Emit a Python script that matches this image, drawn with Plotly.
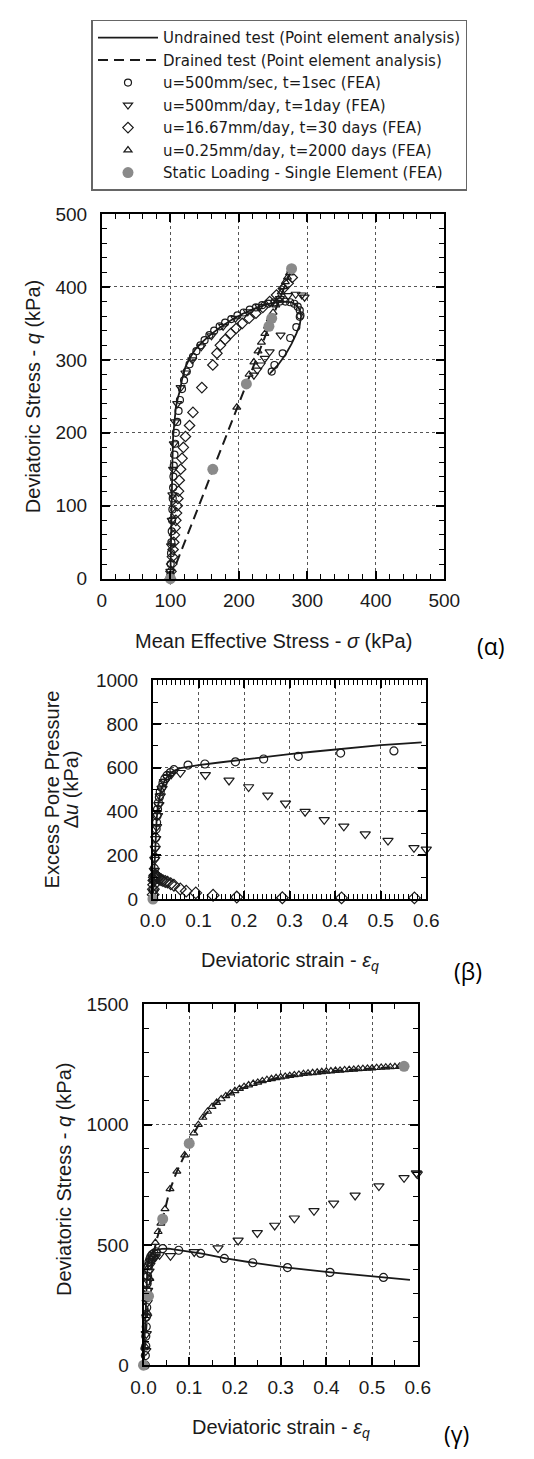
import plotly.graph_objects as go

W, H = 534, 1459

# ---------------- Panel (α): q vs mean effective stress ----------------
a_und_p = [100, 100.5, 101, 102, 103, 104, 106, 108, 111, 114, 117, 122, 128, 136, 146, 158, 172, 188, 205, 222,
           240, 255, 267, 277, 284, 289, 291, 289, 284, 277, 268, 258, 249, 245]
a_und_q = [0, 40, 80, 120, 160, 195, 220, 235, 248, 258, 273, 290, 302, 314, 324, 334, 344, 354, 363, 370,
           376, 379, 380, 379, 375, 369, 360, 348, 336, 322, 307, 294, 285, 281]
a_dr_p = [100, 277]
a_dr_q = [0, 425]
a_c1_p = [100, 100.5, 101, 101.5, 102, 102.5, 103, 103.5, 104, 104.5, 105, 106, 107, 108, 110, 112, 114, 117, 120,
          124, 128, 133, 138, 144, 150, 157, 164, 172, 180, 189, 198, 207, 216, 225, 234, 243, 252, 260, 268, 275,
          281, 286, 289, 290, 289, 284, 275, 264, 252, 248]
a_c1_q = [5, 20, 35, 50, 65, 80, 95, 110, 125, 140, 155, 170, 185, 200, 215, 230, 245, 260, 272,
          284, 294, 304, 312, 320, 327, 334, 340, 346, 351, 356, 361, 365, 369, 372, 375, 377, 379, 380, 380, 379,
          377, 373, 368, 361, 359, 345, 330, 309, 293, 284]
a_c2_p = [100, 101, 102, 103, 104, 105, 107, 110, 115, 122, 132, 145, 160, 177, 195, 213, 230, 246, 260, 272, 283,
          292, 296, 261, 245, 238, 232, 227, 222]
a_c2_q = [10, 45, 80, 115, 150, 185, 215, 240, 262, 282, 300, 318, 333, 346, 357, 366, 373, 379, 384, 388, 390,
          389, 386, 334, 311, 302, 293, 286, 279]
a_c3_p = [100, 101, 102, 103, 104, 105, 106, 107, 108, 109, 110, 111, 112, 113, 115, 117, 119, 122, 128, 133, 146,
          162, 168, 173, 180, 188, 196, 205, 215, 225, 235, 245, 255, 265, 272, 278]
a_c3_q = [0, 10, 20, 30, 40, 50, 60, 70, 80, 90, 100, 110, 120, 135, 150, 165, 180, 195, 210, 228, 262,
          293, 309, 320, 328, 336, 343, 350, 357, 364, 372, 380, 389, 398, 405, 413]
a_c4_p = [197, 215, 222, 228, 233, 238, 242, 246, 250, 254, 258, 262, 265, 268, 271, 274, 276]
a_c4_q = [235, 280, 297, 312, 324, 336, 346, 356, 365, 375, 384, 393, 400, 407, 413, 419, 423]
a_st_p = [100, 162, 211, 244, 248, 277]
a_st_q = [0, 150, 267, 346, 357, 425]

# ---------------- Panel (β): excess pore pressure vs deviatoric strain ----------------
b_und_e = [0, 0.002, 0.004, 0.006, 0.008, 0.01, 0.013, 0.017, 0.022, 0.028, 0.035, 0.045, 0.06, 0.08, 0.1, 0.15,
           0.2, 0.25, 0.3, 0.35, 0.4, 0.45, 0.5, 0.55, 0.59]
b_und_u = [0, 100, 200, 290, 360, 410, 455, 495, 525, 550, 568, 585, 598, 606, 612, 625, 638, 650, 662, 673, 684,
           694, 703, 710, 716]
b_c1_e = [0.001, 0.002, 0.003, 0.004, 0.005, 0.006, 0.007, 0.008, 0.009, 0.01, 0.012, 0.014, 0.016, 0.019, 0.022,
          0.026, 0.031, 0.038, 0.046, 0.077, 0.114, 0.181, 0.243, 0.319, 0.412, 0.529]
b_c1_u = [40, 90, 140, 190, 240, 280, 320, 350, 380, 410, 440, 465, 490, 510, 530, 550, 565, 578, 591, 612, 617,
          627, 640, 652, 667, 677]
b_c2_e = [0.001, 0.002, 0.003, 0.004, 0.005, 0.006, 0.008, 0.01, 0.013, 0.016, 0.02, 0.025, 0.032, 0.04, 0.06,
          0.115, 0.167, 0.21, 0.252, 0.291, 0.334, 0.376, 0.419, 0.466, 0.516, 0.573, 0.6]
b_c2_u = [30, 80, 130, 180, 230, 275, 330, 380, 430, 470, 505, 535, 555, 570, 577, 567, 542, 512, 474, 437, 399,
          362, 332, 297, 267, 234, 227]
b_c3_e = [0.0005, 0.001, 0.0015, 0.002, 0.003, 0.004, 0.005, 0.006, 0.008, 0.01, 0.012, 0.015, 0.018, 0.022, 0.027,
          0.032, 0.039, 0.046, 0.06, 0.073, 0.094, 0.132, 0.184, 0.284, 0.414, 0.574]
b_c3_u = [20, 45, 65, 85, 100, 108, 110, 108, 104, 100, 96, 92, 88, 84, 80, 77, 70, 63, 46, 36, 28, 17, 9, 6, 5, 5]
b_st_e = [0.0]
b_st_u = [0]

# ---------------- Panel (γ): q vs deviatoric strain ----------------
g_und_e = [0, 0.002, 0.004, 0.006, 0.008, 0.01, 0.013, 0.017, 0.022, 0.03, 0.04, 0.055, 0.075, 0.1, 0.125, 0.15,
           0.18, 0.24, 0.315, 0.41, 0.525, 0.583]
g_und_q = [0, 110, 220, 310, 380, 425, 450, 465, 474, 480, 484, 485, 480, 474, 465, 456, 444, 426, 406, 386, 365, 355]
g_dr_e = [0, 0.005, 0.011, 0.02, 0.03, 0.042, 0.057, 0.073, 0.09, 0.1, 0.114, 0.13, 0.15, 0.165, 0.2, 0.25, 0.3,
          0.35, 0.4, 0.45, 0.5, 0.57, 0.583]
g_dr_q = [0, 140, 287, 450, 530, 608, 725, 806, 874, 922, 977, 1030, 1075, 1100, 1141, 1176, 1198, 1212, 1222, 1228,
          1235, 1243, 1244]
g_c1_e = [0.004, 0.004, 0.005, 0.005, 0.006, 0.006, 0.007, 0.007, 0.008, 0.008, 0.009, 0.01, 0.011, 0.012, 0.014,
          0.016, 0.019, 0.023, 0.028, 0.042, 0.077, 0.125, 0.177, 0.239, 0.315, 0.408, 0.525]
g_c1_q = [0, 40, 80, 120, 160, 200, 240, 280, 310, 340, 370, 395, 415, 430, 442, 452, 460, 466, 471, 485, 478, 465,
          444, 426, 406, 386, 365]
g_c2_e = [0.005, 0.006, 0.007, 0.008, 0.009, 0.01, 0.012, 0.014, 0.017, 0.021, 0.026, 0.035, 0.059, 0.111, 0.163,
          0.207, 0.249, 0.287, 0.33, 0.373, 0.416, 0.463, 0.515, 0.57, 0.597, 0.599]
g_c2_q = [60, 130, 200, 260, 310, 350, 390, 415, 432, 442, 450, 459, 455, 471, 487, 519, 550, 581, 611, 642, 673,
          706, 745, 779, 799, 795]
g_c4_e = [0.003, 0.008, 0.014, 0.02, 0.026, 0.032, 0.038, 0.047, 0.058, 0.073, 0.09, 0.11, 0.12, 0.13, 0.14, 0.15,
          0.16, 0.17, 0.18, 0.19, 0.2, 0.21, 0.22, 0.23, 0.24, 0.25, 0.26, 0.27, 0.28, 0.29, 0.3, 0.31, 0.32, 0.33,
          0.34, 0.35, 0.36, 0.37, 0.38, 0.39, 0.4, 0.41, 0.42, 0.43, 0.44, 0.45, 0.46, 0.47, 0.48, 0.49, 0.5, 0.51,
          0.52, 0.53, 0.54, 0.55, 0.56]
g_c4_q = [80, 220, 360, 450, 510, 555, 590, 650, 733, 806, 874, 965, 1000, 1030, 1055, 1075, 1092, 1107, 1120,
          1131, 1141, 1150, 1158, 1165, 1171, 1176, 1182, 1187, 1191, 1195, 1198, 1201, 1204, 1207, 1209, 1212, 1214,
          1216, 1218, 1220, 1222, 1223, 1225, 1226, 1228, 1229, 1230, 1232, 1233, 1234, 1235, 1237, 1238, 1239, 1240,
          1241, 1242]
g_st_e = [0.0, 0.011, 0.042, 0.1, 0.57]
g_st_q = [0, 287, 608, 922, 1243]

names = ["Undrained test (Point element analysis)",
         "Drained test (Point element analysis)",
         "u=500mm/sec, t=1sec (FEA)",
         "u=500mm/day, t=1day (FEA)",
         "u=16.67mm/day, t=30 days (FEA)",
         "u=0.25mm/day, t=2000 days (FEA)",
         "Static Loading - Single Element (FEA)"]

FONT = "Liberation Sans, Arial, sans-serif"
INK = "#1a1a1a"
GREY = "#8a8a8a"

fig = go.Figure()

line_styles = [dict(color=INK, width=1.8), dict(color=INK, width=2, dash="10px,6px")]
symbols = ["circle-open", "triangle-down-open", "diamond-open", "triangle-up-open", "circle"]
sizes_small = [7, 8, 8, 7, 11]
sizes_big = [8, 9, 9, 7, 11]


def marker(idx, big):
    k = idx - 2
    s = (sizes_big if big else sizes_small)[k]
    if k == 4:
        return dict(symbol=symbols[k], size=s, color=GREY, line=dict(width=0))
    return dict(symbol=symbols[k], size=s, color=INK, line=dict(width=1.2, color=INK))


def add_line(x, y, idx, ax, show):
    fig.add_trace(go.Scatter(x=x, y=y, mode="lines", line=line_styles[idx], name=names[idx],
                             legendgroup=str(idx), showlegend=show, xaxis="x" + ax, yaxis="y" + ax,
                             cliponaxis=False, hoverinfo="skip"))


def add_mk(x, y, idx, ax, show):
    fig.add_trace(go.Scatter(x=x, y=y, mode="markers", marker=marker(idx, ax != ""), name=names[idx],
                             legendgroup=str(idx), showlegend=show, xaxis="x" + ax, yaxis="y" + ax,
                             cliponaxis=False, hoverinfo="skip"))


# panel α (axes 1)
add_line(a_und_p, a_und_q, 0, "", True)
add_line(a_dr_p, a_dr_q, 1, "", True)
add_mk(a_c1_p, a_c1_q, 2, "", True)
add_mk(a_c2_p, a_c2_q, 3, "", True)
add_mk(a_c3_p, a_c3_q, 4, "", True)
add_mk(a_c4_p, a_c4_q, 5, "", True)
add_mk(a_st_p, a_st_q, 6, "", True)
# panel β (axes 2)
add_line(b_und_e, b_und_u, 0, "2", False)
add_mk(b_c1_e, b_c1_u, 2, "2", False)
add_mk(b_c2_e, b_c2_u, 3, "2", False)
add_mk(b_c3_e, b_c3_u, 4, "2", False)
add_mk(b_st_e, b_st_u, 6, "2", False)
# panel γ (axes 3)
add_line(g_und_e, g_und_q, 0, "3", False)
add_line(g_dr_e, g_dr_q, 1, "3", False)
add_mk(g_c1_e, g_c1_q, 2, "3", False)
add_mk(g_c2_e, g_c2_q, 3, "3", False)
add_mk(g_c4_e, g_c4_q, 5, "3", False)
add_mk(g_st_e, g_st_q, 6, "3", False)


def xd(l, r):
    return [l / W, r / W]


def yd(t, b):
    return [1 - b / H, 1 - t / H]


def axis(domain, rng, dtick, minor, fmt=None, anchor=None, standoff=9):
    d = dict(domain=domain, range=rng, dtick=dtick, tick0=0, showline=True, linecolor="black", linewidth=2,
             mirror="allticks", ticks="inside", ticklen=8, tickwidth=1.5, tickcolor="black",
             showgrid=True, gridcolor="#555555", griddash="dot", gridwidth=1.2, zeroline=False,
             tickfont=dict(family=FONT, size=19, color=INK), ticklabelstandoff=standoff,
             minor=dict(dtick=minor, tick0=0, ticks="inside", ticklen=5, tickwidth=1.2, tickcolor="black",
                        showgrid=False),
             fixedrange=True)
    if fmt:
        d["tickformat"] = fmt
    if anchor:
        d["anchor"] = anchor
    return d


fig.update_layout(
    width=W, height=H, autosize=False, margin=dict(l=0, r=0, t=0, b=0, pad=0),
    paper_bgcolor="white", plot_bgcolor="white",
    font=dict(family=FONT, color=INK),
    xaxis=axis(xd(94, 456), [0, 500], 100, 20, anchor="y", standoff=4),
    yaxis=axis(yd(207, 577), [0, 500], 100, 20, anchor="x"),
    xaxis2=axis(xd(148, 437), [0, 0.6], 0.1, 0.01, ".1f", anchor="y2", standoff=3),
    yaxis2=axis(yd(680, 902), [0, 1000], 200, 100, anchor="x2"),
    xaxis3=axis(xd(138, 428), [0, 0.6], 0.1, 0.05, ".1f", anchor="y3", standoff=4),
    yaxis3=axis(yd(1009, 1375), [0, 1500], 500, 100, anchor="x3"),
    legend=dict(x=83 / W, y=1 - 10 / H, xanchor="left", yanchor="top", bgcolor="white",
                bordercolor="#666666", borderwidth=1.5, itemwidth=60, tracegroupgap=0,
                font=dict(family="DejaVu Sans, Liberation Sans, sans-serif", size=15, color=INK)),
    showlegend=True,
)

TF = dict(family=FONT, size=20, color=INK)
LF = dict(family="Open Sans, Noto Sans, sans-serif", size=23, color="black")


def ann(text, x, y, font, angle=0):
    fig.add_annotation(text=text, x=x / W, y=1 - y / H, xref="paper", yref="paper", showarrow=False,
                       xanchor="center", yanchor="middle", font=font, textangle=angle)


ann("Mean Effective Stress - <i>σ</i> (kPa)", 275, 640, TF)
ann("Deviatoric Stress - <i>q</i> (kPa)", 22, 392, TF, -90)
ann("(α)", 505, 645, LF)
ann("Excess Pore Pressure", 41, 791, TF, -90)
ann("Δ<i>u</i> (kPa)", 61, 791, TF, -90)
ann("Deviatoric strain - <i>ε<sub>q</sub></i>", 293, 965, TF)
ann("(β)", 481, 975, LF)
ann("Deviatoric Stress - <i>q</i> (kPa)", 54, 1187, TF, -90)
ann("Deviatoric strain - <i>ε<sub>q</sub></i>", 283, 1439, TF)
ann("(γ)", 469, 1445, LF)

fig.write_html("out.html")
